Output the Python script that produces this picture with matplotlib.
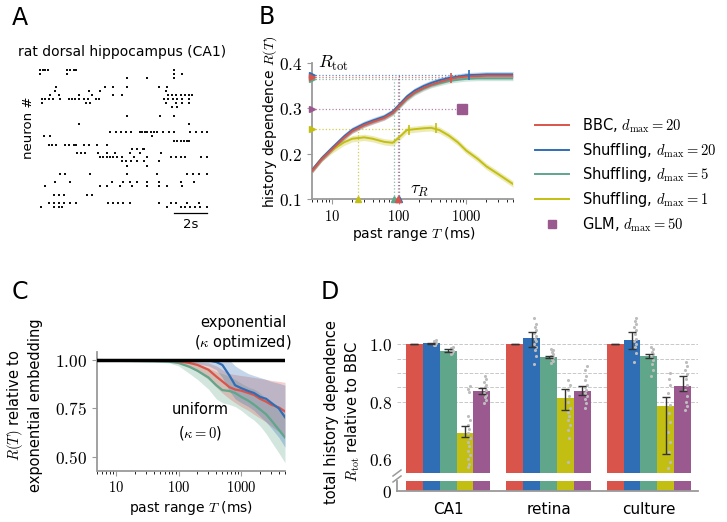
"""
History dependence figure: raster (A), R(T) curves (B), embedding comparison (C),
relative R_tot bars (D)
"""

import matplotlib

matplotlib.use("Agg")
import matplotlib.pyplot as plt
import numpy as np
from matplotlib.lines import Line2D

plt.rcParams["font.family"] = ["DejaVu Sans"]
plt.rcParams["mathtext.fontset"] = "cm"

# ── Theme ──────────────────────────────────────────────
RED = "#d9544a"
BLUE = "#2f6eb5"
GREEN = "#5fa68b"
YELLOW = "#c3bf12"
PURPLE = "#9b5a8f"
SPINE = "#9a9a9a"
W, H = 727, 522

# ── Data: panel A (spike raster, times in s, one entry per neuron row) ──
raster_rows = [
    (0, [0.12, 0.3, 0.45, 0.6, 1.75, 1.95, 2.15, 2.3, 8.2]),
    (1, [0.15, 1.75, 8.2, 8.7]),
    (2, [5.35, 6.6, 8.2]),
    (4, [1.1, 4.05, 4.55, 5.35, 7.3, 7.8]),
    (5, [1.05, 3.05, 3.75, 7.75]),
    (6, [0.75, 1.25, 2.45, 3.25, 4.55, 5.05, 7.85, 8.1, 8.35, 8.6, 8.85, 9.1, 9.3]),
    (7, [0.25, 0.45, 0.65, 0.9, 1.3, 1.85, 2.05, 2.25, 2.5, 2.75, 3.0, 3.5, 3.7,
         7.6, 7.85, 8.15, 8.4, 8.7, 9.1]),
    (8, [0.25, 2.9, 3.15, 7.75, 8.3, 8.7, 9.1]),
    (9, [8.1, 8.4]),
    (11, [5.35, 7.35, 8.2]),
    (13, [2.45, 9.1]),
    (15, [4.35, 4.7, 5.0, 5.3, 5.6, 6.15, 6.3, 6.45, 6.6, 6.8, 7.0, 7.2, 7.55,
          7.9, 8.2, 9.2, 9.55, 9.9, 10.2]),
    (16, [0.35, 0.75, 6.9]),
    (17, [8.2, 8.4, 8.6, 8.8, 9.0, 9.1]),
    (18, [0.65, 0.85, 1.1, 1.65, 1.9, 2.15, 2.3, 2.75, 3.05, 3.55, 4.15]),
    (19, [5.65, 6.0, 6.35, 6.4]),
    (20, [2.35, 2.6, 2.85, 3.65, 4.15, 4.65, 5.55, 6.15, 7.4]),
    (21, [3.75, 3.95, 4.15, 4.35, 4.55, 4.75, 5.05, 5.8, 6.6, 8.0, 8.3, 8.6, 8.9,
          9.85, 10.2]),
    (22, [5.05, 5.3, 5.6, 5.95, 6.4, 7.3]),
    (23, [5.35, 6.6]),
    (25, [1.35, 1.65, 3.15, 5.35, 7.2, 9.0, 9.35, 9.7, 10.2]),
    (27, [1.05, 1.95, 4.45, 5.15, 5.55, 5.95, 6.6, 7.3, 8.6, 9.4]),
    (28, [0.45, 3.75, 4.15, 4.95, 5.65, 6.6, 7.3, 7.8, 8.7]),
    (30, [0.95, 1.25, 1.55, 2.95, 3.25]),
    (32, [0.65, 0.95, 1.25, 1.55, 1.95, 2.3, 4.25, 4.55, 4.85, 5.15, 5.55, 7.3,
          8.0, 8.3, 9.0, 9.7]),
    (33, [0.2, 0.95, 1.25, 1.45, 7.8, 8.6, 8.9, 9.2, 9.5, 9.8, 10.2]),
]

# ── Data: panel B (R(T) vs past range T in ms) ─────────
T_b = [5, 7, 10, 15, 20, 30, 40, 60, 80, 100, 130, 170, 230, 300, 400, 550,
       750, 1000, 1500, 2000, 3000, 5000]
R_bbc = [0.162, 0.188, 0.210, 0.235, 0.250, 0.263, 0.270, 0.279, 0.290, 0.305,
         0.322, 0.335, 0.345, 0.352, 0.358, 0.364, 0.368, 0.370, 0.371, 0.372,
         0.372, 0.372]
R_shuf20 = [0.164, 0.190, 0.213, 0.238, 0.253, 0.266, 0.273, 0.282, 0.293,
            0.308, 0.326, 0.339, 0.349, 0.356, 0.362, 0.367, 0.370, 0.373,
            0.374, 0.375, 0.375, 0.375]
R_shuf5 = [0.162, 0.188, 0.210, 0.235, 0.250, 0.263, 0.270, 0.279, 0.289,
           0.303, 0.320, 0.333, 0.343, 0.350, 0.355, 0.360, 0.363, 0.365,
           0.366, 0.366, 0.366, 0.366]
R_shuf1 = [0.163, 0.190, 0.208, 0.225, 0.233, 0.236, 0.233, 0.226, 0.224,
           0.236, 0.252, 0.254, 0.256, 0.257, 0.252, 0.240, 0.225, 0.207,
           0.188, 0.172, 0.155, 0.133]
band_b = [0.005, 0.006, 0.005, 0.007]

Rtot_b = [0.370, 0.373, 0.365, 0.254]
tau_b = [97, 101, 83, 24]
Tend_b = [600, 1100, 520, 140]
glm_T, glm_R = 880, 0.298
plateau_ticks = [(600, 0.367), (1100, 0.373), (140, 0.253), (350, 0.256)]

# ── Data: panel C (R(T) relative to exponential embedding) ──
T_c = [5, 10, 20, 40, 70, 100, 150, 200, 300, 400, 500, 650, 800, 1000, 1300,
       1600, 2000, 2500, 3000, 4000, 5000]
c_red = [1.0, 0.998, 0.997, 0.997, 0.996, 0.993, 0.985, 0.975, 0.95, 0.915,
         0.89, 0.86, 0.848, 0.842, 0.83, 0.82, 0.80, 0.785, 0.77, 0.755, 0.735]
c_red_lo = [1.0, 0.997, 0.996, 0.995, 0.993, 0.985, 0.96, 0.94, 0.90, 0.86,
            0.83, 0.80, 0.78, 0.76, 0.74, 0.72, 0.70, 0.68, 0.66, 0.63, 0.60]
c_red_hi = [1.0, 0.999, 0.999, 0.999, 0.999, 0.998, 0.995, 0.99, 0.985, 0.97,
            0.95, 0.93, 0.925, 0.92, 0.915, 0.91, 0.905, 0.90, 0.895, 0.89,
            0.885]
c_blue = [1.0, 0.999, 0.999, 0.999, 0.999, 0.999, 0.999, 0.999, 0.998, 0.99,
          0.975, 0.92, 0.87, 0.855, 0.84, 0.83, 0.81, 0.80, 0.78, 0.75, 0.705]
c_blue_lo = [1.0, 0.998, 0.998, 0.998, 0.997, 0.995, 0.99, 0.98, 0.97, 0.95,
             0.91, 0.84, 0.80, 0.78, 0.76, 0.74, 0.71, 0.68, 0.65, 0.60, 0.55]
c_blue_hi = [1.0, 1.0, 1.0, 1.0, 1.0, 1.0, 1.0, 1.0, 1.0, 1.0, 1.0, 1.0, 0.97,
             0.95, 0.93, 0.92, 0.91, 0.90, 0.89, 0.88, 0.87]
c_green = [0.998, 0.996, 0.995, 0.994, 0.992, 0.985, 0.965, 0.945, 0.91, 0.87,
           0.845, 0.84, 0.83, 0.81, 0.79, 0.77, 0.745, 0.72, 0.69, 0.64, 0.60]
c_green_lo = [0.997, 0.994, 0.992, 0.99, 0.985, 0.97, 0.93, 0.90, 0.85, 0.80,
              0.78, 0.77, 0.76, 0.74, 0.71, 0.69, 0.66, 0.62, 0.58, 0.52, 0.47]
c_green_hi = [0.999, 0.998, 0.998, 0.998, 0.997, 0.995, 0.99, 0.98, 0.96, 0.94,
              0.93, 0.915, 0.90, 0.88, 0.86, 0.85, 0.83, 0.80, 0.78, 0.75, 0.72]

# ── Data: panel D (total history dependence relative to BBC) ──
datasets = ["CA1", "retina", "culture"]
methods = ["BBC", "Shuffling20", "Shuffling5", "Shuffling1", "GLM"]
d_mean = {
    "CA1": [1.0, 1.003, 0.978, 0.690, 0.838],
    "retina": [1.0, 1.021, 0.956, 0.812, 0.838],
    "culture": [1.0, 1.014, 0.959, 0.786, 0.856],
}
d_lo = {
    "CA1": [1.0, 1.001, 0.973, 0.679, 0.826],
    "retina": [1.0, 0.992, 0.951, 0.772, 0.825],
    "culture": [1.0, 0.985, 0.953, 0.618, 0.838],
}
d_hi = {
    "CA1": [1.0, 1.005, 0.983, 0.716, 0.848],
    "retina": [1.0, 1.044, 0.961, 0.845, 0.855],
    "culture": [1.0, 1.044, 0.965, 0.818, 0.889],
}
d_points = {
    "CA1": [[], [0.996, 0.999, 1.001, 1.003, 1.005, 1.008, 1.012, 1.015],
            [0.966, 0.970, 0.974, 0.978, 0.981, 0.984, 0.988, 0.990],
            [0.574, 0.585, 0.60, 0.615, 0.63, 0.645, 0.66, 0.675, 0.69, 0.705,
             0.72, 0.735, 0.75, 0.835, 0.845, 0.854],
            [0.795, 0.805, 0.815, 0.825, 0.83, 0.84, 0.85, 0.86, 0.87, 0.88,
             0.89]],
    "retina": [[], [0.93, 0.96, 0.98, 0.99, 1.0, 1.01, 1.02, 1.03, 1.04, 1.05,
                    1.06, 1.07, 1.09],
               [0.936, 0.942, 0.948, 0.955, 0.96, 0.967, 0.974, 0.98, 0.985],
               [0.59, 0.675, 0.70, 0.72, 0.735, 0.75, 0.765, 0.78, 0.80, 0.82,
                0.84, 0.86, 0.875],
               [0.78, 0.795, 0.81, 0.82, 0.83, 0.84, 0.85, 0.86, 0.875, 0.89,
                0.91, 0.925]],
    "culture": [[], [0.94, 0.97, 0.99, 1.0, 1.01, 1.02, 1.035, 1.05, 1.06,
                     1.07, 1.08, 1.09],
                [0.89, 0.91, 0.93, 0.945, 0.955, 0.965, 0.975, 0.985, 0.99],
                [0.57, 0.59, 0.625, 0.66, 0.695, 0.73, 0.76, 0.79, 0.83, 0.86,
                 0.88, 0.90],
                [0.77, 0.785, 0.80, 0.82, 0.84, 0.86, 0.88, 0.895, 0.91, 0.925,
                 0.94]],
}

legend_labels = [
    r"BBC, $d_{\rm max}=20$",
    r"Shuffling, $d_{\rm max}=20$",
    r"Shuffling, $d_{\rm max}=5$",
    r"Shuffling, $d_{\rm max}=1$",
    r"GLM, $d_{\rm max}=50$",
]


def px_axes(left, top, right, bottom):
    """Axes rectangle from pixel edges (origin top-left)."""
    return fig.add_axes([left / W, 1 - bottom / H, (right - left) / W, (bottom - top) / H])


def style_spines(ax):
    for s in ["top", "right"]:
        ax.spines[s].set_visible(False)
    for s in ["left", "bottom"]:
        ax.spines[s].set_color(SPINE)
        ax.spines[s].set_linewidth(1.3)
    ax.tick_params(colors=SPINE, labelcolor="black")
    ax.tick_params(axis="y", labelsize=12.5)
    ax.tick_params(axis="x", labelsize=10.5)


fig = plt.figure(figsize=(W / 100, H / 100), dpi=100)

# ── Panel A ─────────────────────────────────────────────
axA = px_axes(38, 68, 212, 215.3)
for row, times in raster_rows:
    axA.scatter(times, [row] * len(times), s=1.0, marker="s", color="#111111",
                linewidths=0)
axA.set_xlim(0, 10.5)
axA.set_ylim(35, -0.5)
axA.axis("off")
axA.plot([8.2, 10.2], [34.5, 34.5], color="black", lw=0.9, clip_on=False)
axA.text(9.2, 37.3, "2s", ha="center", va="center", fontsize=9.5, clip_on=False)
fig.text(122 / W, 1 - 52 / H, "rat dorsal hippocampus (CA1)", ha="center",
         va="center", fontsize=10)
fig.text(29 / W, 1 - 128 / H, "neuron #", ha="center", va="center",
         rotation=90, fontsize=9.5)

# ── Panel B ─────────────────────────────────────────────
axB = px_axes(312, 63, 513, 199)
style_spines(axB)
series_b = [R_bbc, R_shuf20, R_shuf5, R_shuf1]
colors_b = [RED, BLUE, GREEN, YELLOW]
order = [3, 2, 1, 0]
for i in order:
    y = np.array(series_b[i])
    axB.fill_between(T_b, y - band_b[i], y + band_b[i], color=colors_b[i],
                     alpha=0.3, lw=0, zorder=2)
    axB.plot(T_b, y, color=colors_b[i], lw=1.4, zorder=3)
for i in order:
    c = colors_b[i]
    axB.plot([5, Tend_b[i]], [Rtot_b[i], Rtot_b[i]], ls=":", lw=0.9, color=c,
             alpha=0.75, zorder=1)
    axB.plot([tau_b[i], tau_b[i]], [0.1, Rtot_b[i]], ls=":", lw=0.9, color=c,
             alpha=0.75, zorder=1)
    axB.plot(5, Rtot_b[i], marker=">", ms=4.5, color=c, clip_on=False, zorder=5)
    axB.plot(tau_b[i], 0.1, marker="^", ms=5, color=c, clip_on=False, zorder=5)
axB.plot([5, glm_T], [glm_R, glm_R], ls=":", lw=0.9, color=PURPLE, alpha=0.75)
axB.plot(5, glm_R, marker=">", ms=4.5, color=PURPLE, clip_on=False, zorder=5)
axB.plot(glm_T, glm_R, marker="s", ms=7, color=PURPLE, zorder=5)
for (tx, ty), c in zip(plateau_ticks, [RED, BLUE, YELLOW, YELLOW]):
    axB.plot(tx, ty, marker="|", ms=7, mew=1.2, color=c, zorder=4)
axB.set_xscale("log")
axB.set_xlim(5, 5000)
axB.set_ylim(0.1, 0.4)
axB.set_xticks([10, 100, 1000], [r"$10$", r"$100$", r"$1000$"])
axB.set_yticks([0.1, 0.2, 0.3, 0.4],
               [r"$0.1$", r"$0.2$", r"$0.3$", r"$0.4$"])
axB.text(10.5, 0.40, r"$R_{\rm tot}$", ha="center", va="center", fontsize=13)
axB.text(205, 0.12, r"$\tau_R$", ha="center", va="center", fontsize=13)
fig.text(270 / W, 1 - 122 / H, r"history dependence $R(T)$", rotation=90,
         ha="center", va="center", fontsize=10)
fig.text(414 / W, 1 - 234 / H, r"past range $T$ (ms)", ha="center",
         va="center", fontsize=10)

handles = [Line2D([], [], color=c, lw=1.4) for c in colors_b]
handles.append(Line2D([], [], color=PURPLE, marker="s", ms=6, ls="none"))
fig.legend(handles, legend_labels, loc="center left",
           bbox_to_anchor=(522 / W, 1 - 175 / H), frameon=False, fontsize=10.5,
           handlelength=2.3, labelspacing=0.4, handletextpad=0.9)

# ── Panel C ─────────────────────────────────────────────
axC = px_axes(97, 352.3, 285, 470.5)
style_spines(axC)
for y, lo, hi, c in [(c_green, c_green_lo, c_green_hi, GREEN),
                     (c_red, c_red_lo, c_red_hi, RED),
                     (c_blue, c_blue_lo, c_blue_hi, BLUE)]:
    axC.fill_between(T_c, lo, hi, color=c, alpha=0.28, lw=0, zorder=2)
for y, c in [(c_green, GREEN), (c_red, RED), (c_blue, BLUE)]:
    axC.plot(T_c, y, color=c, lw=1.6, zorder=3)
axC.axhline(1.0, color="black", lw=2.5, zorder=4)
axC.set_xscale("log")
axC.set_xlim(5, 5000)
axC.set_ylim(0.43, 1.04)
axC.set_xticks([10, 100, 1000], [r"$10$", r"$100$", r"$1000$"])
axC.set_yticks([0.5, 0.75, 1.0], [r"$0.50$", r"$0.75$", r"$1.00$"])
fig.text(243 / W, 1 - 322 / H, "exponential", ha="center", va="center",
         fontsize=10.5)
fig.text(243 / W, 1 - 343 / H, r"($\kappa$ optimized)", ha="center",
         va="center", fontsize=10.5)
fig.text(200 / W, 1 - 410 / H, "uniform", ha="center", va="center",
         fontsize=10.5)
fig.text(200 / W, 1 - 433 / H, r"($\kappa=0$)", ha="center", va="center",
         fontsize=10.5)
fig.text(24 / W, 1 - 405 / H, "$R(T)$ relative to\nexponential embedding",
         rotation=90, ha="center", va="center", fontsize=10.5, linespacing=1.3)
fig.text(191 / W, 1 - 508 / H, r"past range $T$ (ms)", ha="center",
         va="center", fontsize=10)

# ── Panel D ─────────────────────────────────────────────
axD = px_axes(397, 315.6, 698, 473.3)
axD0 = px_axes(397, 481, 698, 490.7)
colors_d = [RED, BLUE, GREEN, YELLOW, PURPLE]
bw = 0.168
for g, name in enumerate(datasets):
    for k in range(len(methods)):
        x = g + (k - 2) * bw
        for ax in (axD, axD0):
            ax.bar(x, d_mean[name][k], width=bw, color=colors_d[k], lw=0,
                   zorder=2)
        pts = d_points[name][k]
        jit = [0.025, 0.04, 0.03, 0.045][: len(pts)] * (len(pts) // 4 + 1)
        axD.scatter([x + j for j in jit[: len(pts)]], pts, s=5, color="#bdbdbd",
                    lw=0, zorder=3)
        lo, hi = d_lo[name][k], d_hi[name][k]
        axD.errorbar(x, d_mean[name][k], yerr=[[d_mean[name][k] - lo],
                                                [hi - d_mean[name][k]]],
                     color="#333333", lw=1.0, capsize=3, capthick=1.0, zorder=4)
for yv in [0.8, 0.85, 0.9, 0.95, 1.0]:
    axD.axhline(yv, color="#c8c8c8", lw=0.7, ls="--", zorder=1)
axD.set_xlim(-0.51, 2.49)
axD.set_ylim(0.551, 1.1)
axD.set_yticks([0.6, 0.8, 1.0], [r"$0.6$", r"$0.8$", r"$1.0$"])
axD.set_xticks([])
axD.tick_params(length=0, labelsize=12.5)
for s in axD.spines.values():
    s.set_visible(False)
axD0.set_xlim(-0.51, 2.49)
axD0.set_ylim(0, 0.05)
axD0.set_yticks([0], [r"$0$"])
axD0.set_xticks(range(len(datasets)), datasets)
style_spines(axD0)
axD0.tick_params(length=0, labelsize=12.5)
axD0.tick_params(axis="x", labelsize=11, pad=8)
for dy in (0, 6):
    fig.add_artist(Line2D([393 / W, 401 / W],
                          [1 - (476 + dy) / H, 1 - (470 + dy) / H],
                          color=SPINE, lw=1.1))
fig.text(343 / W, 1 - 412 / H, "total history dependence\n"
         r"$R_{\rm tot}$ relative to BBC", rotation=90, ha="center",
         va="center", fontsize=10.5, linespacing=1.3)

# ── Panel letters ───────────────────────────────────────
for lab, x, y in [("A", 20, 18), ("B", 267, 17), ("C", 20, 292), ("D", 330, 292)]:
    fig.text(x / W, 1 - y / H, lab, ha="center", va="center", fontsize=17)

fig.savefig("out.png", dpi=100)
plt.close()
